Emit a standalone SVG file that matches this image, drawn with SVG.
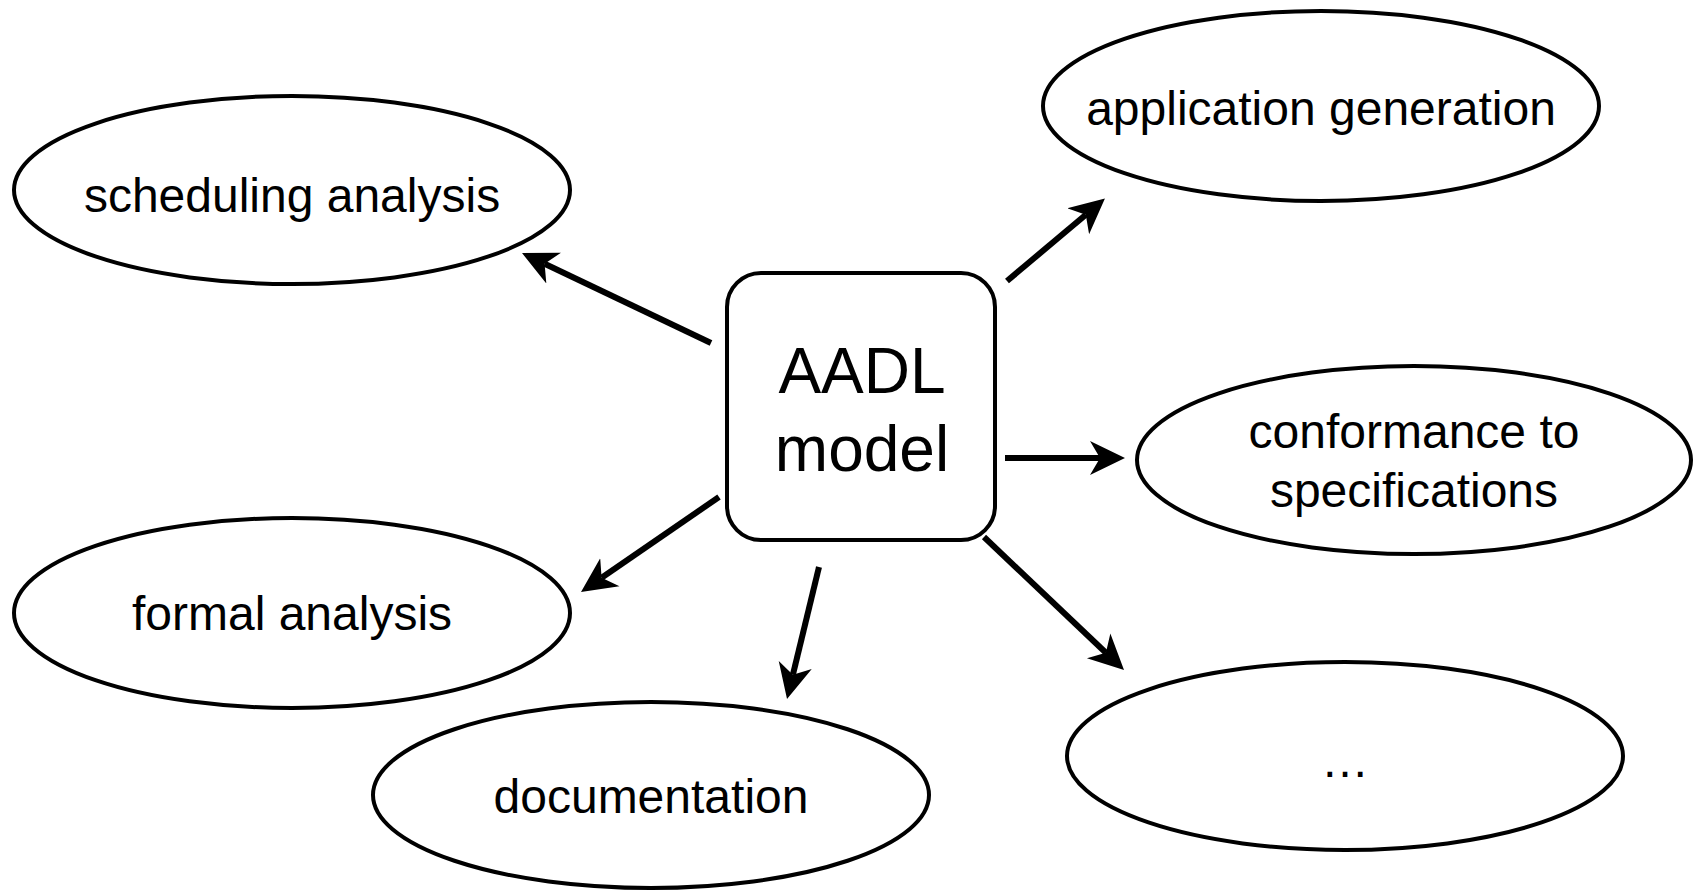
<svg xmlns="http://www.w3.org/2000/svg" width="1694" height="890" viewBox="0 0 1694 890">
<style>
.node{fill:#fff;stroke:#000;stroke-width:4}
.lbl{font-family:"Liberation Sans",Arial,Helvetica,sans-serif;font-size:48px;fill:#000;text-anchor:middle}
.big{font-size:64px}
.edge{stroke:#000;stroke-width:6;fill:none;marker-end:url(#arr)}
</style>
<defs>
<marker id="arr" markerUnits="userSpaceOnUse" markerWidth="40" markerHeight="40" viewBox="0 -20 40 40" refX="10" refY="0" orient="auto">
<path d="M35,0 L0,-17 L10,0 L0,17 Z" fill="#000"/>
</marker>
</defs>
<rect width="1694" height="890" fill="#fff"/>
<g id="connectors">
<line class="edge" x1="711" y1="343" x2="544.6" y2="263.8"/>
<line class="edge" x1="1007" y1="281" x2="1085.8" y2="214.7"/>
<line class="edge" x1="1005" y1="458" x2="1100" y2="458"/>
<line class="edge" x1="719" y1="497" x2="601.6" y2="577.8"/>
<line class="edge" x1="819" y1="567" x2="792.9" y2="674.7"/>
<line class="edge" x1="984" y1="537" x2="1105.9" y2="652.8"/>
</g>
<g id="aadl-model">
<rect class="node" x="727" y="273" width="268" height="267" rx="34" ry="34"/>
<text class="lbl big" x="862" y="393">AADL</text>
<text class="lbl big" x="862" y="471">model</text>
</g>
<g id="scheduling-analysis">
<ellipse class="node" cx="292" cy="190" rx="278" ry="94"/>
<text class="lbl" x="292" y="212">scheduling analysis</text>
</g>
<g id="application-generation">
<ellipse class="node" cx="1321" cy="106" rx="278" ry="95"/>
<text class="lbl" x="1321" y="125">application generation</text>
</g>
<g id="conformance">
<ellipse class="node" cx="1414" cy="460" rx="277" ry="94"/>
<text class="lbl" x="1414" y="448">conformance to</text>
<text class="lbl" x="1414" y="507">specifications</text>
</g>
<g id="formal-analysis">
<ellipse class="node" cx="292" cy="613" rx="278" ry="95"/>
<text class="lbl" x="292" y="630">formal analysis</text>
</g>
<g id="documentation">
<ellipse class="node" cx="651" cy="795" rx="278" ry="93"/>
<text class="lbl" x="651" y="813">documentation</text>
</g>
<g id="more">
<ellipse class="node" cx="1345" cy="756" rx="278" ry="94"/>
<text class="lbl" x="1345" y="777">…</text>
</g>
</svg>
